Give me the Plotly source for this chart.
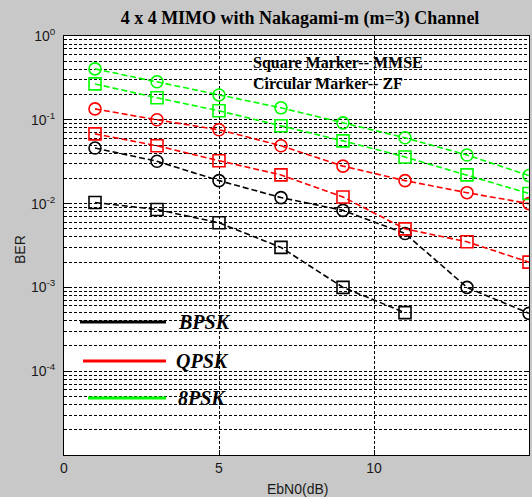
import plotly.graph_objects as go

# ---------------- data ----------------
ebn0 = [1, 3, 5, 7, 9, 11, 13, 15]
ebn0_bpsk_mmse = [1, 3, 5, 7, 9, 11]

bpsk_zf = [0.046, 0.032, 0.0188, 0.0118, 0.0083, 0.0044, 0.001, 0.00049]
bpsk_mmse = [0.0103, 0.0085, 0.0059, 0.003, 0.001, 0.0005]
qpsk_zf = [0.135, 0.1, 0.076, 0.049, 0.028, 0.0188, 0.0135, 0.01]
qpsk_mmse = [0.068, 0.049, 0.0325, 0.022, 0.012, 0.005, 0.0035, 0.002]
psk8_zf = [0.405, 0.284, 0.198, 0.139, 0.092, 0.061, 0.038, 0.0216]
psk8_mmse = [0.268, 0.183, 0.128, 0.085, 0.056, 0.036, 0.022, 0.0132]

x_ticks = [0, 5, 10, 15]
y_tickvals = [1e0, 1e-1, 1e-2, 1e-3, 1e-4]
y_ticktext = ["10<sup>0</sup>", "10<sup>-1</sup>", "10<sup>-2</sup>",
              "10<sup>-3</sup>", "10<sup>-4</sup>"]
minor_vals = [m * 10.0 ** e for e in range(-5, 0) for m in range(2, 10)]

title_text = "4 x 4 MIMO with Nakagami-m (m=3) Channel"
note1 = "Square Marker-- MMSE"
note2 = "Circular Marker-- ZF"
legend_names = ["BPSK", "QPSK", "8PSK"]
colors = ["#000000", "#ff0000", "#00ff00"]

# ---------------- figure ----------------
fig = go.Figure()
DASH = "6px,3px"

series = [
    (ebn0, bpsk_zf, colors[0], "circle-open", "BPSK ZF"),
    (ebn0_bpsk_mmse, bpsk_mmse, colors[0], "square-open", "BPSK MMSE"),
    (ebn0, qpsk_zf, colors[1], "circle-open", "QPSK ZF"),
    (ebn0, qpsk_mmse, colors[1], "square-open", "QPSK MMSE"),
    (ebn0, psk8_zf, colors[2], "circle-open", "8PSK ZF"),
    (ebn0, psk8_mmse, colors[2], "square-open", "8PSK MMSE"),
]
for xs, ys, c, sym, name in series:
    fig.add_trace(go.Scatter(
        x=xs, y=ys, mode="lines+markers", name=name,
        line=dict(color=c, width=1.6, dash=DASH),
        marker=dict(symbol=sym, size=12, color=c, line=dict(width=1.6, color=c)),
        showlegend=False,
    ))

# plot area in pixels: x 64..529, y 36..455
L, R, T, B = 64, 529, 36, 455
W, H = R - L, B - T


def px(x):
    return (x - L) / W


def py(y):
    return (B - y) / H


shapes = []
# white boxes hiding the grid behind the texts
for x0, x1, y0, y1 in [(247, 495, 54, 97), (170, 217, 278, 340), (221, 265, 278, 340),
                       (170, 245, 352, 436)]:
    shapes.append(dict(type="rect", xref="paper", yref="paper",
                       x0=px(x0), x1=px(x1), y0=py(y1), y1=py(y0),
                       fillcolor="white", line=dict(width=0), layer="between"))
# legend sample lines
for (x0, x1, y), c in zip([(80, 166, 322), (83, 166, 361), (88, 166, 398)], colors):
    shapes.append(dict(type="line", xref="paper", yref="paper",
                       x0=px(x0), x1=px(x1), y0=py(y), y1=py(y),
                       line=dict(color=c, width=3)))

annotations = []
for (x, y), name in zip([(176, 322), (174, 361), (176, 398)], legend_names):
    annotations.append(dict(xref="paper", yref="paper", x=px(x), y=py(y),
                            xanchor="left", yanchor="middle", showarrow=False,
                            text="<b><i>%s</i></b>" % name,
                            font=dict(family="Liberation Serif", size=20, color="black")))
for (x, y), t in zip([(251, 63), (251, 83)], [note1, note2]):
    annotations.append(dict(xref="paper", yref="paper", x=px(x), y=py(y),
                            xanchor="left", yanchor="middle", showarrow=False,
                            text="<b>%s</b>" % t,
                            font=dict(family="Liberation Serif", size=16, color="black")))
# axis titles
annotations.append(dict(xref="paper", yref="paper", x=px(20), y=py(250),
                        xanchor="center", yanchor="middle", showarrow=False,
                        text="BER", textangle=-90,
                        font=dict(family="Liberation Sans", size=14, color="#1a1a1a")))
annotations.append(dict(xref="paper", yref="paper", x=px(297), y=py(489),
                        xanchor="center", yanchor="middle", showarrow=False,
                        text="EbN0(dB)",
                        font=dict(family="Liberation Sans", size=14, color="#1a1a1a")))

fig.update_layout(
    width=532, height=497,
    margin=dict(l=L, r=532 - R, t=T, b=497 - B),
    paper_bgcolor="#c8c8c8",
    plot_bgcolor="white",
    title=dict(text="<b>%s</b>" % title_text, x=px(300), xref="paper",
               xanchor="center", y=1 - 18 / 497, yanchor="middle",
               font=dict(family="Liberation Serif", size=18, color="black")),
    shapes=shapes,
    annotations=annotations,
    showlegend=False,
)

fig.update_xaxes(
    range=[0, 15], tickvals=x_ticks,
    showgrid=True, gridcolor="#000000", gridwidth=1, griddash="3px,2px",
    showline=True, linecolor="black", linewidth=1, mirror="ticks",
    ticks="inside", ticklen=5, tickcolor="black",
    tickfont=dict(family="Liberation Sans", size=14, color="#1a1a1a"),
    zeroline=False,
)
fig.update_yaxes(
    type="log", range=[-5, 0],
    tickvals=y_tickvals, ticktext=y_ticktext,
    showgrid=True, gridcolor="#000000", gridwidth=1, griddash="3px,2px",
    minor=dict(tickvals=minor_vals, showgrid=True, gridcolor="#000000",
               gridwidth=1, griddash="3px,2px", ticks=""),
    showline=True, linecolor="black", linewidth=1, mirror="ticks",
    ticks="inside", ticklen=5, tickcolor="black", ticklabelstandoff=5,
    tickfont=dict(family="Liberation Sans", size=14, color="#1a1a1a"),
    zeroline=False,
)

fig.write_html("out.html")
